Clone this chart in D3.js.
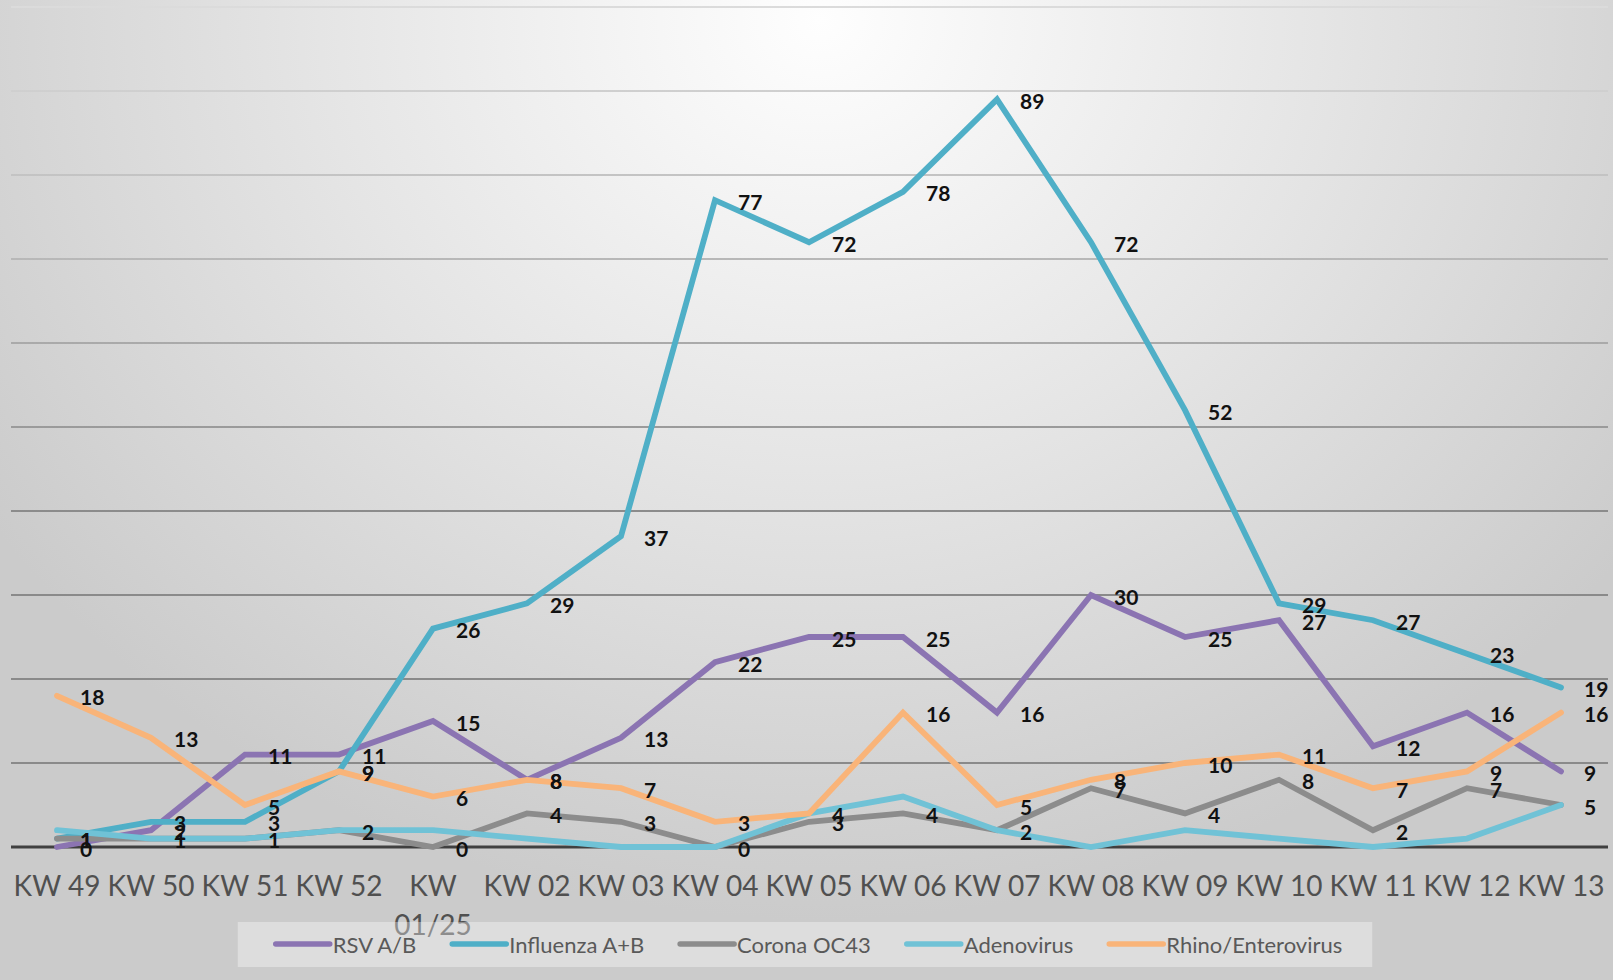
<!DOCTYPE html>
<html>
  <head>
    <meta charset="utf-8">
    <title>Atemwegsviren KW 49 - KW 13</title>
    <script src="https://cdnjs.cloudflare.com/ajax/libs/d3/7.8.5/d3.min.js"></script>
    <style>
      html, body { margin: 0; padding: 0; overflow: hidden; }
      svg { display: block; }
    </style>
  </head>
  <body>
    <div id="chart"></div>
    <script type="text/javascript">
      // data
      var categories = ["KW 49", "KW 50", "KW 51", "KW 52", "KW 01/25", "KW 02", "KW 03", "KW 04", "KW 05",
                        "KW 06", "KW 07", "KW 08", "KW 09", "KW 10", "KW 11", "KW 12", "KW 13"];
      var rsv        = [0, 2, 11, 11, 15, 8, 13, 22, 25, 25, 16, 30, 25, 27, 12, 16, 9];
      var influenza  = [1, 3, 3, 9, 26, 29, 37, 77, 72, 78, 89, 72, 52, 29, 27, 23, 19];
      var corona     = [1, 1, 1, 2, 0, 4, 3, 0, 3, 4, 2, 7, 4, 8, 2, 7, 5];
      var adeno      = [2, 1, 1, 2, 2, 1, 0, 0, 4, 6, 2, 0, 2, 1, 0, 1, 5];
      var rhino      = [18, 13, 5, 9, 6, 8, 7, 3, 4, 16, 5, 8, 10, 11, 7, 9, 16];
      var seriesNames = ["RSV A/B", "Influenza A+B", "Corona OC43", "Adenovirus", "Rhino/Enterovirus"];
      var yTicks = [0, 10, 20, 30, 40, 50, 60, 70, 80, 90, 100];

      var colors = ["#8b74b2", "#4fafc7", "#8c8c8c", "#70c2d6", "#f9b479"];
      var withLabels = [true, true, true, false, true];
      var allSeries = [rsv, influenza, corona, adeno, rhino];

      var w = 1613, h = 980;
      // plot area edges (not called top/left: window.top is read only)
      var plotL = 10, plotR = 1608, plotT = 7, plotB = 847;

      var svg = d3.select("#chart").append("svg")
        .attr("width", w)
        .attr("height", h);

      var defs = svg.append("defs");

      // slide background: light spot top centre, grey to the edges
      var bg = defs.append("radialGradient")
        .attr("id", "bg")
        .attr("gradientUnits", "userSpaceOnUse")
        .attr("cx", 820).attr("cy", 20).attr("r", 1000)
        .attr("gradientTransform", "translate(0,2) scale(1,0.9)");
      bg.append("stop").attr("offset", "0").attr("stop-color", "#fefefe");
      bg.append("stop").attr("offset", "0.5").attr("stop-color", "#e5e5e5");
      bg.append("stop").attr("offset", "1").attr("stop-color", "#cbcbcb");

      // gridlines fade towards the top
      var gg = defs.append("linearGradient")
        .attr("id", "gridfade")
        .attr("gradientUnits", "userSpaceOnUse")
        .attr("x1", 0).attr("y1", 0).attr("x2", 0).attr("y2", 520);
      gg.append("stop").attr("offset", "0").attr("stop-color", "#dcdcdc");
      gg.append("stop").attr("offset", "0.55").attr("stop-color", "#b4b4b4");
      gg.append("stop").attr("offset", "1").attr("stop-color", "#8a8a8a");

      svg.append("rect")
        .attr("width", w).attr("height", h)
        .attr("fill", "url(#bg)");

      var x = d3.scaleBand()
        .domain(categories)
        .range([plotL, plotR])
        .padding(0);

      var y = d3.scaleLinear()
        .domain([0, 100])
        .range([plotB, plotT]);

      var cx = function(i) { return x(categories[i]) + x.bandwidth() / 2; };

      // gridlines
      svg.append("g")
        .selectAll("line")
        .data(yTicks.filter(function(d) { return d > 0; }))
        .enter()
        .append("line")
        .attr("x1", plotL + 1).attr("x2", plotR)
        .attr("y1", function(d) { return y(d); })
        .attr("y2", function(d) { return y(d); })
        .attr("stroke", "url(#gridfade)")
        .attr("stroke-width", 2.2);

      // category axis
      var xAxis = svg.append("g")
        .attr("transform", "translate(0," + plotB + ")")
        .call(d3.axisBottom(x).tickSize(0).tickPadding(0));
      xAxis.select(".domain")
        .attr("d", "M" + (plotL + 1) + ",0H" + plotR)
        .attr("stroke", "#404040")
        .attr("stroke-width", 3);
      xAxis.selectAll(".tick text")
        .attr("fill", "#505050")
        .style("font-family", "Lato, 'Open Sans', sans-serif")
        .style("font-size", "28px")
        .attr("dy", null)
        .attr("y", 49)
        .each(function(d) {
          var t = d3.select(this);
          // only the long label wraps, like in the original
          if (this.getComputedTextLength() > x.bandwidth() + 10) {
            var words = d.split(" ");
            t.text(null);
            words.forEach(function(word, k) {
              t.append("tspan").attr("x", 0).attr("dy", k === 0 ? 0 : 39).text(word);
            });
          }
        });

      // lines
      var line = d3.line()
        .x(function(d, i) { return cx(i); })
        .y(function(d) { return y(d); });

      svg.append("g")
        .selectAll("path")
        .data(allSeries)
        .enter()
        .append("path")
        .attr("d", line)
        .attr("fill", "none")
        .attr("stroke", function(d, k) { return colors[k]; })
        .attr("stroke-width", 5.8)
        .attr("stroke-linejoin", "miter")
        .attr("stroke-linecap", "round");

      // data labels, right of each point
      allSeries.forEach(function(values, k) {
        if (!withLabels[k]) return;
        svg.append("g")
          .selectAll("text")
          .data(values)
          .enter()
          .append("text")
          .attr("x", function(d, i) { return cx(i) + 23; })
          .attr("y", function(d) { return y(d) + 1; })
          .attr("dominant-baseline", "central")
          .attr("fill", "#111")
          .style("font-family", "Lato, 'Open Sans', sans-serif")
          .style("font-weight", "bold")
          .style("font-size", "21px")
          .text(function(d) { return d; });
      });

      // legend, centred under the plot
      var legend = svg.append("g");
      var legendBox = legend.append("rect")
        .attr("y", 922).attr("height", 45)
        .attr("fill", "#ffffff")
        .attr("fill-opacity", 0.35);

      var lx = 0;
      seriesNames.forEach(function(name, k) {
        var item = legend.append("g").attr("class", "item");
        item.append("line")
          .attr("x1", lx).attr("x2", lx + 54)
          .attr("y1", 944).attr("y2", 944)
          .attr("stroke", colors[k])
          .attr("stroke-width", 5.5)
          .attr("stroke-linecap", "round");
        var txt = item.append("text")
          .attr("x", lx + 57)
          .attr("y", 944)
          .attr("dominant-baseline", "central")
          .attr("fill", "#595959")
          .style("font-family", "Lato, 'Open Sans', sans-serif")
          .style("font-size", "22px")
          .text(name);
        lx += 57 + txt.node().getComputedTextLength() + 36;
      });
      var legendWidth = lx - 36;
      var shift = (plotL + plotR) / 2 - legendWidth / 2;
      legend.selectAll("g.item").attr("transform", "translate(" + shift + ",0)");
      legendBox
        .attr("x", shift - 38)
        .attr("width", legendWidth + 68);
    </script>
  </body>
</html>
